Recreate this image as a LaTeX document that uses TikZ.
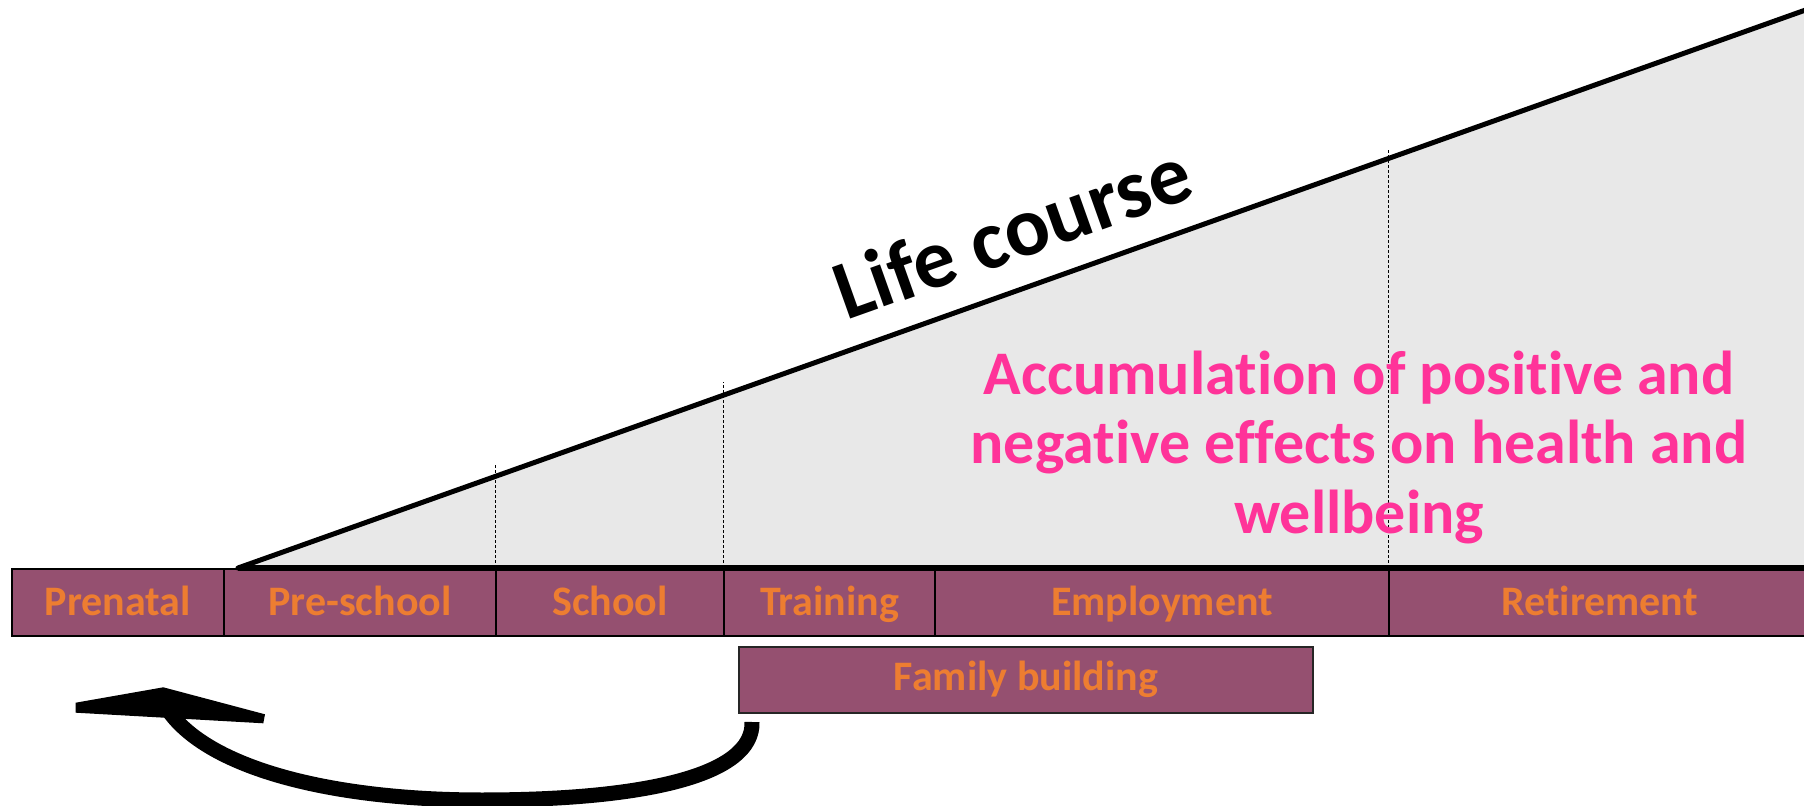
\documentclass[tikz,border=0pt]{standalone}
\usepackage{fontspec}
\setmainfont{Carlito}[Ligatures={NoCommon}]
\definecolor{barfill}{HTML}{955070}
\definecolor{labelorange}{HTML}{ED7D31}
\definecolor{accpink}{HTML}{FF3399}
\definecolor{wedgegrey}{HTML}{E8E8E8}
\tikzset{
  cell/.style={draw=black, line width=1pt, fill=barfill, inner sep=0pt,
    minimum height=33.5pt, text=labelorange, text height=17pt, text depth=4pt,
    font=\fontsize{21pt}{25pt}\selectfont\bfseries},
  famcell/.style={draw=black!85, line width=0.8pt, fill=barfill, inner sep=0pt,
    minimum height=33pt, minimum width=287pt, text=labelorange,
    text height=15pt, text depth=5pt,
    font=\fontsize{21pt}{25pt}\selectfont\bfseries},
  sepline/.style={black, line width=0.5pt, dash pattern=on 1.5pt off 1pt},
  slopeline/.style={black, line width=2.5pt},
  baseline/.style={black, line width=3pt},
  shaft/.style={black, line width=7.5pt},
}
\begin{document}
\begin{tikzpicture}[x=0.5pt,y=-0.5pt]
\useasboundingbox (0,0) rectangle (1804,806);
\clip (0,0) rectangle (1804,806);
% wedge
\coordinate (w0) at (238,568);
\coordinate (w1) at (1830,1.3);
\coordinate (w2) at (1830,568);
\fill[wedgegrey] (w0) -- (w1) -- (w2) -- cycle;
% timeline cells
\node[cell, minimum width=106pt] (prenatal) at (118,602.5) {Prenatal};
\node[cell, minimum width=136pt] (preschool) at (360,602.5) {Pre-school};
\node[cell, minimum width=114pt] (school) at (610,602.5) {School};
\node[cell, minimum width=105.5pt] (training) at (829.5,602.5) {Training};
\node[cell, minimum width=227pt] (employment) at (1162,602.5) {Employment};
\node[cell, minimum width=210.5pt] (retirement) at (1599.5,602.5) {Retirement};
\node[famcell] (family) at (1026,680) {Family building};
% separators
\draw[sepline] (school.north west) -- ++(0,-104);
\draw[sepline] (training.north west) -- ++(0,-186);
\draw[sepline] (retirement.north west) -- ++(0,-420);
% slope and base lines
\draw[slopeline, line cap=round] (w0) -- (w1);
\draw[baseline] (w0) -- (w2);
% labels
\node[anchor=base west, rotate=19.6, inner sep=0pt,
  font=\fontsize{42pt}{48pt}\selectfont\bfseries] (life) at (846,321) {Life course};
\node[anchor=base, align=center, inner sep=0pt, text=accpink,
  font=\fontsize{31pt}{35pt}\selectfont\bfseries] (accum) at (1359,534)
  {Accumulation of positive and\\negative effects on health and\\wellbeing};
% curved arrow
\coordinate (arrS) at (752,722);
\coordinate (arrB) at (482,800);
\coordinate (arrE) at (168,710);
\draw[shaft] (arrS) .. controls (754,776) and (642,800) .. (arrB)
  .. controls (330,800) and (208,768) .. (arrE);
\fill (75.7,702.7) -- (163.3,687.3) -- (265,714.3) -- (263.3,723.3) -- (75.7,712.7) -- cycle;
\end{tikzpicture}
\end{document}
